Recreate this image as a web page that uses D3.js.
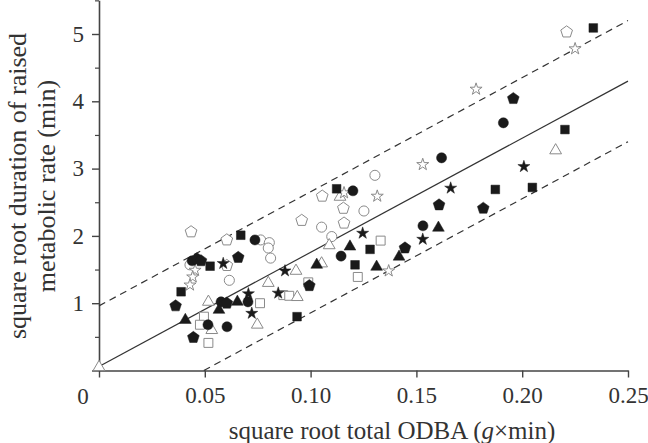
<!DOCTYPE html>
<html>
<head>
<meta charset="utf-8">
<script src="https://cdn.jsdelivr.net/npm/d3@7"></script>
<style>
  html, body { margin: 0; padding: 0; background: #fff; }
  svg { display: block; }
  text { font-family: "Liberation Serif", "Times New Roman", serif; fill: #333; }
</style>
</head>
<body>
<svg id="chart" width="648" height="443"></svg>
<script>
// ---- data (x = square root total ODBA, y = square root duration) ----
const filledCircle = [[0.0440,1.63],[0.0515,0.68],[0.0577,1.02],[0.0605,0.65],[0.0704,1.02],[0.0737,1.94],[0.1144,1.70],[0.1200,2.67],[0.1531,2.15],[0.1619,3.16],[0.1911,3.68]];
const openCircle = [[0.0430,1.57],[0.0764,1.94],[0.0805,1.90],[0.0800,1.82],[0.0811,1.67],[0.0616,1.34],[0.1052,2.13],[0.1100,1.99],[0.1252,2.37],[0.1304,2.90]];
const filledSquare = [[0.0388,1.17],[0.0525,1.55],[0.0670,2.01],[0.0936,0.80],[0.1123,2.70],[0.1281,1.80],[0.1210,1.57],[0.1873,2.69],[0.2048,2.72],[0.2202,3.58],[0.2336,5.09]];
const openSquare = [[0.0496,0.80],[0.0477,0.68],[0.0517,0.41],[0.0761,1.00],[0.0871,1.12],[0.0899,1.11],[0.0989,1.31],[0.1223,1.39],[0.1331,1.93]];
const filledTriangle = [[0.0408,0.75],[0.0567,0.90],[0.0654,1.02],[0.1029,1.57],[0.1186,1.84],[0.1312,1.54],[0.1418,1.69],[0.1604,2.12]];
const openTriangle = [[0.0,0.05],[0.0517,1.02],[0.0533,0.60],[0.0748,0.68],[0.0800,1.30],[0.0931,1.48],[0.0937,1.09],[0.1052,1.59],[0.1088,1.86],[0.1139,2.58],[0.2158,3.27]];
const filledPentagon = [[0.0362,0.96],[0.0446,0.49],[0.0463,1.66],[0.0482,1.63],[0.0604,1.00],[0.0658,1.68],[0.0994,1.26],[0.1446,1.82],[0.1607,2.46],[0.1816,2.41],[0.1958,4.04]];
const openPentagon = [[0.0435,2.06],[0.0604,1.94],[0.0604,1.56],[0.0958,2.23],[0.1055,2.59],[0.1155,2.41],[0.1158,2.19],[0.2210,5.03]];
const filledStar = [[0.0587,1.59],[0.0706,1.14],[0.0722,0.85],[0.0847,1.15],[0.0879,1.48],[0.1246,2.04],[0.1530,1.95],[0.1662,2.71],[0.2008,3.03]];
const openStar = [[0.0454,1.49],[0.0443,1.39],[0.0430,1.27],[0.1158,2.64],[0.1315,2.59],[0.1369,1.48],[0.1530,3.06],[0.1782,4.18],[0.2250,4.78]];

// fitted line and prediction band: y = intercept + slope * x
const fitSlope = 16.96;
const fitIntercepts = [0.06, 0.96, -0.84]; // fit, upper, lower
const xTicks = [0, 0.05, 0.10, 0.15, 0.20, 0.25];
const xTickLabels = ["", "0.05", "0.10", "0.15", "0.20", "0.25"];
const yTicks = [0, 1, 2, 3, 4, 5];
const yTickLabels = ["", "1", "2", "3", "4", "5"];
const yMinorTicks = [0.5, 1.5, 2.5, 3.5, 4.5, 5.5];

// ---- chart ----
const svg = d3.select("#chart");
const x = d3.scaleLinear().domain([0, 0.25]).range([99, 628]);
const y = d3.scaleLinear().domain([0, 5.5]).range([370.5, 0.35]);

const pentagon = {
  draw(ctx, size) {
    const r = Math.sqrt(size / 2.378);
    for (let i = 0; i < 5; i++) {
      const a = -Math.PI / 2 + i * 2 * Math.PI / 5;
      const px = r * Math.cos(a), py = r * Math.sin(a);
      if (i === 0) ctx.moveTo(px, py); else ctx.lineTo(px, py);
    }
    ctx.closePath();
  }
};

const axisColor = "#444";

// x axis
const xAxis = d3.axisBottom(x).tickValues(xTicks).tickSize(7).tickSizeOuter(0)
  .tickPadding(9.5).tickFormat((d, i) => xTickLabels[i]);
const gx = svg.append("g").attr("transform", `translate(0,${y(0)})`).call(xAxis);
gx.select(".domain").attr("stroke", axisColor).attr("stroke-width", 1.6);
gx.selectAll(".tick line").attr("stroke", axisColor).attr("stroke-width", 1.4);
gx.selectAll(".tick text").attr("font-size", 23).attr("fill", "#333")
  .style("font-family", "'Liberation Serif', serif");

// y axis
const yAxis = d3.axisLeft(y).tickValues(yTicks).tickSize(7).tickSizeOuter(0)
  .tickPadding(8).tickFormat((d, i) => yTickLabels[i]);
const gy = svg.append("g").attr("transform", `translate(${x(0)},0)`).call(yAxis);
gy.select(".domain").attr("stroke", axisColor).attr("stroke-width", 1.6);
gy.selectAll(".tick line").attr("stroke", axisColor).attr("stroke-width", 1.4);
gy.selectAll(".tick text").attr("font-size", 23).attr("fill", "#333")
  .style("font-family", "'Liberation Serif', serif");
const yMinor = d3.axisLeft(y).tickValues(yMinorTicks).tickSize(4).tickFormat("");
const gym = svg.append("g").attr("transform", `translate(${x(0)},0)`).call(yMinor);
gym.select(".domain").remove();
gym.selectAll(".tick line").attr("stroke", axisColor).attr("stroke-width", 1.2);

// shared origin label
svg.append("text").attr("x", 83).attr("y", 403.5).attr("text-anchor", "middle")
  .attr("font-size", 23).text("0");

// lines
const xEnd = 0.25;
fitIntercepts.forEach((b, i) => {
  let x0 = 0;
  if (b < 0) x0 = -b / fitSlope;
  svg.append("line")
    .attr("x1", x(x0)).attr("y1", y(b + fitSlope * x0))
    .attr("x2", x(xEnd)).attr("y2", y(b + fitSlope * xEnd))
    .attr("stroke", "#333").attr("stroke-width", 1.2)
    .attr("stroke-dasharray", i === 0 ? null : "7,5");
});

// points
const series = [
  { data: openCircle, type: d3.symbolCircle, size: 80, filled: false },
  { data: openSquare, type: d3.symbolSquare, size: 80, filled: false },
  { data: openTriangle, type: d3.symbolTriangle, size: 60, filled: false },
  { data: openPentagon, type: pentagon, size: 90, filled: false },
  { data: openStar, type: d3.symbolStar, size: 45, filled: false },
  { data: filledCircle, type: d3.symbolCircle, size: 80, filled: true },
  { data: filledSquare, type: d3.symbolSquare, size: 75, filled: true },
  { data: filledTriangle, type: d3.symbolTriangle, size: 60, filled: true },
  { data: filledPentagon, type: pentagon, size: 90, filled: true },
  { data: filledStar, type: d3.symbolStar, size: 45, filled: true }
];
series.forEach(s => {
  const sym = d3.symbol().type(s.type).size(s.size);
  svg.append("g").selectAll("path").data(s.data).join("path")
    .attr("transform", d => `translate(${x(d[0])},${y(d[1])})`)
    .attr("d", sym)
    .attr("fill", s.filled ? "#1a1a1a" : "#fff")
    .attr("stroke", s.filled ? "#1a1a1a" : "#8a8a8a")
    .attr("stroke-width", s.filled ? 0.5 : 1);
});

// axis titles
const xt = svg.append("text").attr("x", 392).attr("y", 439).attr("text-anchor", "middle")
  .attr("font-size", 25);
xt.append("tspan").text("square root total ODBA (");
xt.append("tspan").attr("font-style", "italic").text("g");
xt.append("tspan").text("×min)");

const yt = svg.append("g").attr("transform", "translate(0,186) rotate(-90)");
yt.append("text").attr("x", 0).attr("y", 26).attr("text-anchor", "middle")
  .attr("font-size", 26).text("square root duration of raised");
yt.append("text").attr("x", 0).attr("y", 55).attr("text-anchor", "middle")
  .attr("font-size", 26).text("metabolic rate (min)");
</script>
</body>
</html>
